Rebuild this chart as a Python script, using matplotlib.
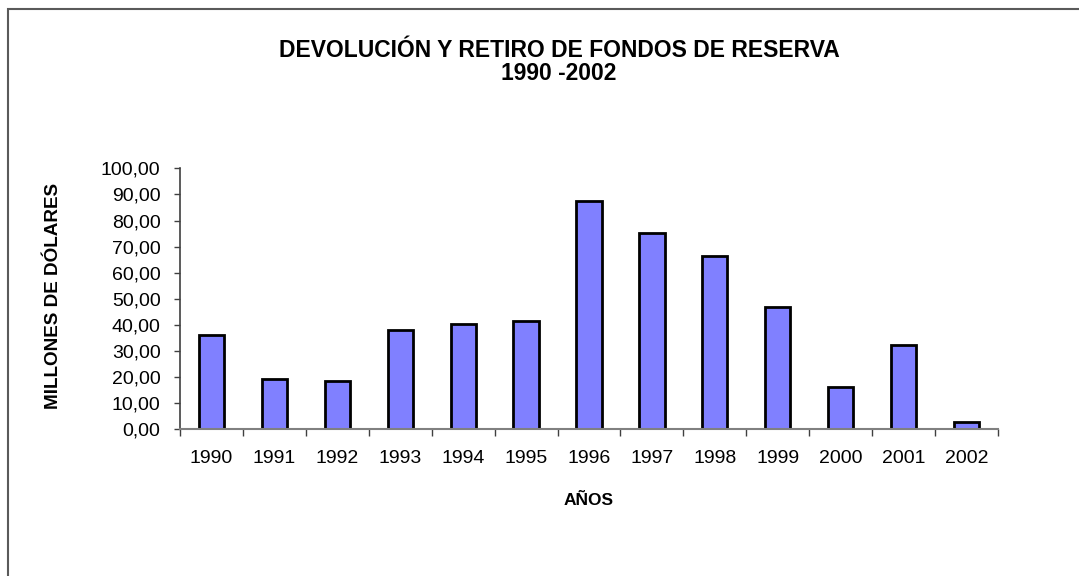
import matplotlib.pyplot as plt
from matplotlib.patches import Rectangle
from matplotlib.ticker import FuncFormatter, FixedLocator

# datos (millones de dólares)
anios = ['1990', '1991', '1992', '1993', '1994', '1995', '1996',
         '1997', '1998', '1999', '2000', '2001', '2002']
valores = [36.3, 19.3, 18.5, 38.2, 40.4, 41.5, 87.6,
           75.2, 66.5, 46.9, 16.2, 32.4, 2.8]
marcas_y = [0, 10, 20, 30, 40, 50, 60, 70, 80, 90, 100]

plt.rcParams['font.family'] = ['Liberation Sans', 'DejaVu Sans']

W, H = 1079, 576
fig = plt.figure(figsize=(W / 100, H / 100), dpi=100)

# marco del área del gráfico (se sale por la derecha y por abajo)
fig.patches.append(Rectangle(
	(8 / W, -0.1), 1.2, 1 - 9 / H + 0.1,
	transform=fig.transFigure, fill=False,
	edgecolor='#5a5a5a', linewidth=1.5
))

ax = fig.add_axes([180 / W, 1 - 429.3 / H, 818 / W, 261 / H])

x = list(range(len(anios)))
ax.bar(x, valores, width=0.4, color='#8080ff',
       edgecolor='black', linewidth=2)

ax.set_xlim(-0.5, len(anios) - 0.5)
ax.set_ylim(0, 100)

# ejes
for lado in ['top', 'right']:
	ax.spines[lado].set_visible(False)
ax.spines['left'].set_color('#404040')
ax.spines['bottom'].set_color('#808080')
ax.spines['left'].set_linewidth(1.2)
ax.spines['bottom'].set_linewidth(1.5)

ax.set_yticks(marcas_y)
ax.yaxis.set_major_formatter(FuncFormatter(lambda v, p: f'{v:.2f}'.replace('.', ',')))
ax.tick_params(axis='y', length=4, width=1, color='#404040',
               pad=10, labelsize=14)

ax.set_xticks(x)
ax.set_xticklabels(anios)
ax.xaxis.set_minor_locator(FixedLocator([i - 0.5 for i in range(len(anios) + 1)]))
ax.tick_params(axis='x', which='major', length=0, pad=15, labelsize=14)
ax.tick_params(axis='x', which='minor', length=5, width=1, color='#404040')

# rótulos de ejes
ax.text(-0.155, 0.51, 'MILLONES DE DÓLARES', transform=ax.transAxes,
        rotation=90, ha='center', va='center',
        fontsize=13.6, fontweight='bold')
ax.text(0.5, -0.271, 'AÑOS', transform=ax.transAxes,
        ha='center', va='center', fontsize=12.5, fontweight='bold')

# título
fig.text(559 / W, 1 - 62 / H, 'DEVOLUCIÓN Y RETIRO DE FONDOS DE RESERVA\n1990 -2002',
         ha='center', va='center', fontsize=16.5, fontweight='bold',
         linespacing=1.02)

fig.savefig('out.png', dpi=100)
